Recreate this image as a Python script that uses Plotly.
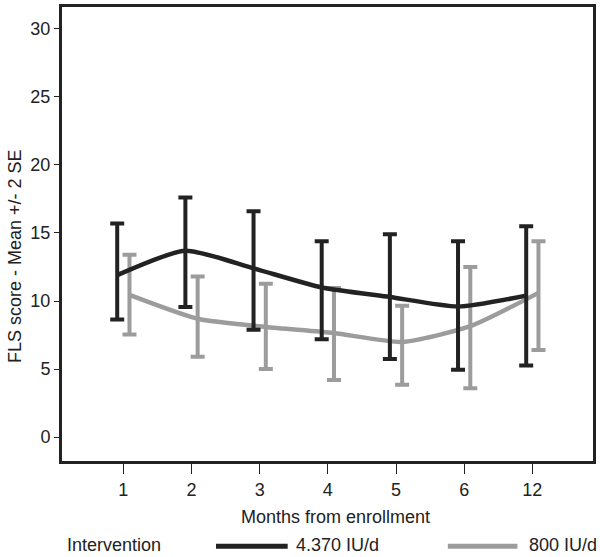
import plotly.graph_objects as go

months = ["1", "2", "3", "4", "5", "6", "12"]

high_mean = [11.9, 13.7, 12.4, 11.0, 10.3, 9.6, 10.4]
high_upper = [15.7, 17.6, 16.6, 14.4, 14.9, 14.4, 15.5]
high_lower = [8.65, 9.56, 7.9, 7.2, 5.75, 4.95, 5.27]

low_mean = [10.45, 8.7, 8.1, 7.65, 7.0, 8.15, 10.6]
low_upper = [13.4, 11.8, 11.27, 10.95, 9.66, 12.5, 14.4]
low_lower = [7.55, 5.9, 5.0, 4.2, 3.86, 3.6, 6.4]

series_names = ["4.370 IU/d", "800 IU/d"]
legend_title = "Intervention"
x_title = "Months from enrollment"
y_title = "FLS score - Mean +/- 2 SE"

DARK = "#222222"
GREY = "#9c9c9c"
FONT = "Liberation Sans, Arial, sans-serif"
OFF = 0.09

idx = list(range(len(months)))

fig = go.Figure()


def add_series(mean, upper, lower, color, shift):
    xs = [i + shift for i in idx]
    fig.add_trace(go.Scatter(
        x=xs, y=mean, mode="lines",
        line=dict(color=color, width=4.5, shape="spline", smoothing=0.6),
        error_y=dict(type="data", symmetric=False,
                     array=[u - m for u, m in zip(upper, mean)],
                     arrayminus=[m - l for m, l in zip(mean, lower)],
                     color=color, thickness=4, width=7),
        showlegend=False, hoverinfo="skip"))


add_series(low_mean, low_upper, low_lower, GREY, OFF)
add_series(high_mean, high_upper, high_lower, DARK, -OFF)

fig.update_layout(
    width=600, height=557,
    margin=dict(l=62, r=4, t=4, b=96),
    paper_bgcolor="white", plot_bgcolor="white",
    font=dict(family=FONT, color=DARK, size=18),
    showlegend=False,
)
fig.update_xaxes(
    range=[-0.9, 6.89], tickvals=idx, ticktext=months,
    showgrid=False, zeroline=False,
    showline=True, linecolor=DARK, linewidth=3, mirror=True,
    ticks="outside", ticklen=10, tickwidth=1, tickcolor=DARK,
    tickfont=dict(size=18),
)
fig.update_yaxes(
    range=[-1.75, 31.6], tickvals=[0, 5, 10, 15, 20, 25, 30],
    showgrid=False, zeroline=False,
    showline=True, linecolor=DARK, linewidth=3, mirror=True,
    ticks="outside", ticklen=5, tickwidth=1, tickcolor=DARK,
    tickfont=dict(size=18),
)

# axis titles
fig.add_annotation(text=x_title, xref="paper", yref="paper", x=0.516, y=-0.1225,
                   showarrow=False, xanchor="center", yanchor="middle", font=dict(size=18))
fig.add_annotation(text=y_title, xref="paper", yref="paper", x=-0.088, y=0.452,
                   showarrow=False, textangle=-90, xanchor="center", yanchor="middle",
                   font=dict(size=18))

# legend
LY = -0.184
fig.add_annotation(text=legend_title, xref="paper", yref="paper", x=0.0056, y=LY,
                   showarrow=False, xanchor="left", yanchor="middle", font=dict(size=18))
for name, color, x0, x1, xt in [(series_names[0], DARK, 0.290, 0.425, 0.436),
                                (series_names[1], GREY, 0.7266, 0.8577, 0.876)]:
    fig.add_shape(type="line", xref="paper", yref="paper", x0=x0, x1=x1,
                  y0=LY - 0.004, y1=LY - 0.004, line=dict(color=color, width=5))
    fig.add_annotation(text=name, xref="paper", yref="paper", x=xt, y=LY,
                       showarrow=False, xanchor="left", yanchor="middle", font=dict(size=18))

fig.write_html("out.html", config={"displayModeBar": False},
               post_script="document.body.style.margin='0';document.body.style.overflow='hidden';")
